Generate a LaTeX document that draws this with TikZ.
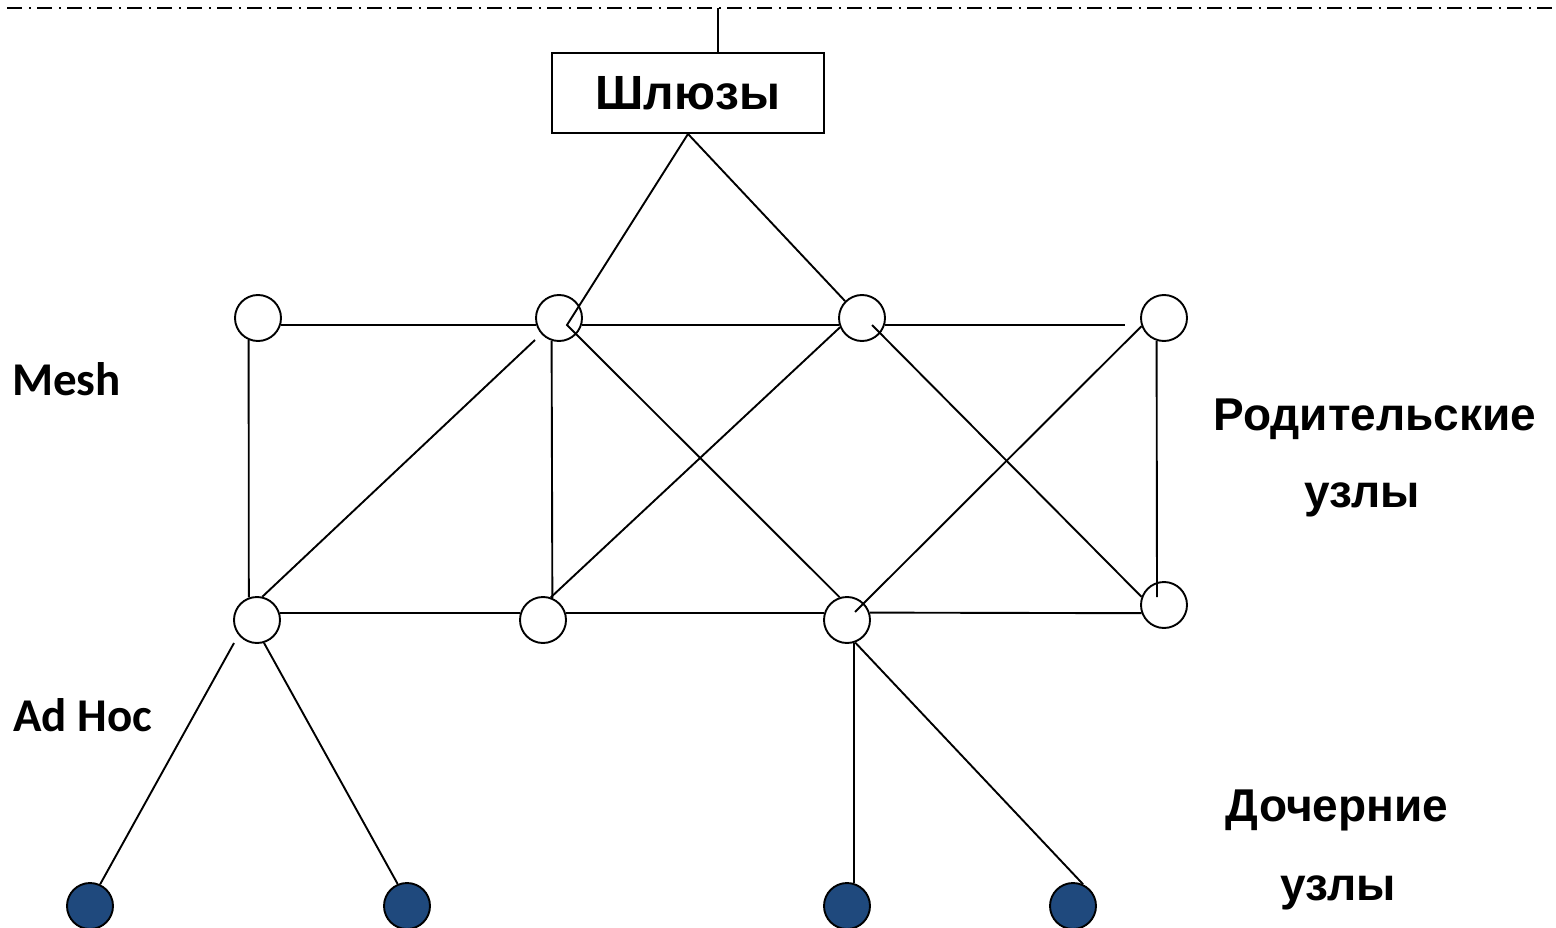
\documentclass[tikz,border=0pt]{standalone}
\usepackage{fontspec}
\setmainfont{Liberation Sans}
\newfontfamily\carl{Carlito}
\definecolor{childblue}{RGB}{31,73,125}
\begin{document}
\begin{tikzpicture}[x=1pt,y=-1pt,
  ln/.style={line width=1.9pt},
  pnode/.style={circle,draw,line width=1.9pt,minimum size=46pt,inner sep=0pt,fill=white},
  cnode/.style={pnode,fill=childblue},
  gwbox/.style={draw,line width=1.9pt,minimum width=272pt,minimum height=80pt,inner sep=0pt,font=\fontsize{48}{50}\selectfont\bfseries},
  rlab/.style={anchor=base,font=\fontsize{46}{48}\selectfont\bfseries,inner sep=0pt},
  llab/.style={anchor=base west,font=\carl\fontsize{47}{49}\selectfont\bfseries,inner sep=0pt}]
\useasboundingbox (0,0) rectangle (1556,928);
% top dash-dot line
\coordinate (tl) at (7,8);
\coordinate (tr) at (1556,8);
\draw[line width=2pt,dash pattern=on 15pt off 7pt on 2pt off 6pt] (tl) -- (tr);
% gateway
\node[gwbox] (gw) at (688,93) {Шлюзы};
\coordinate (gtop) at (718,8);
\draw[ln] (gtop) -- (gtop |- gw.north);
% parent nodes
\node[pnode] (c1) at (258,318) {};
\node[pnode] (c2) at (559,318) {};
\node[pnode] (c3) at (862,318) {};
\node[pnode] (c4) at (1164,318) {};
\node[pnode] (b1) at (257,620) {};
\node[pnode] (b2) at (543,620) {};
\node[pnode] (b3) at (847,620) {};
\node[pnode] (b4) at (1164,605) {};
% child nodes
\node[cnode] (d1) at (90,906) {};
\node[cnode] (d2) at (407,906) {};
\node[cnode] (d3) at (847,906) {};
\node[cnode] (d4) at (1073,906) {};
% connectors
\coordinate (p2) at ([shift={(8,7)}]c2.center);
\draw[ln] (gw.south) -- (p2) -- (b3.108);
\draw[ln] (gw.south) -- (c3.135);
\draw[ln] (c1.-18) -- (c2.198);
\draw[ln] (c2.-18) -- (c3.198);
\draw[ln] (c3.-18) -- ([xshift=-16pt]c4.198);
\draw[ln] (c1.-113) -- (b1.110);
\draw[ln] (b1.77) -- ([shift={(-24,22)}]c2.center);
\draw[ln] (c2.-108) -- (b2.67);
\draw[ln] (c3.203) -- (b2.71);
\draw[ln] ([shift={(10,7)}]c3.center) -- (b4.160);
\draw[ln] (c4.200) -- ([shift={(8,-8)}]b3.center);
\draw[ln] (c4.-108) -- ([shift={(-7,-8)}]b4.center);
\draw[ln] (b1.18) -- (b2.162);
\draw[ln] (b2.18) -- (b3.162);
\draw[ln] (b3.18) -- (b4.200);
\draw[ln] ([shift={(-23,23)}]b1.center) -- (d1.65);
\draw[ln] (b1.-73) -- (d2.113);
\draw[ln] (b3.-72) -- (d3.72);
\draw[ln] (b3.-70) -- (d4.65);
% labels
\node[llab] (mesh) at (12,395) {Mesh};
\node[llab] (adhoc) at (13,731) {Ad Hoc};
\node[rlab] (par1) at (1375,430) {Родительские};
\node[rlab] (par2) at (1362,507) {узлы};
\node[rlab] (ch1) at (1337,821) {Дочерние};
\node[rlab] (ch2) at (1338,900) {узлы};
\end{tikzpicture}
\end{document}
